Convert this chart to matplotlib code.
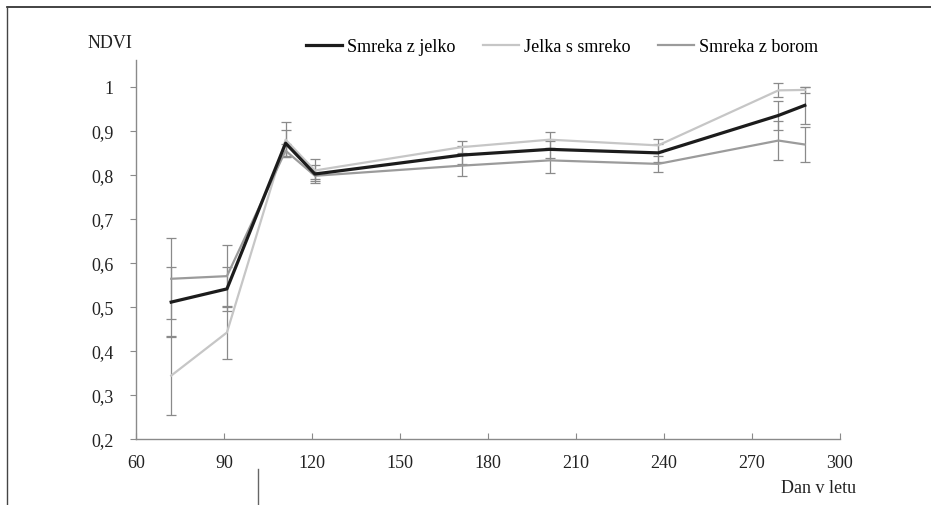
import matplotlib
matplotlib.use("Agg")
import matplotlib.pyplot as plt
from matplotlib.lines import Line2D
from matplotlib.ticker import FuncFormatter

plt.rcParams["font.family"] = ["Liberation Serif", "DejaVu Serif"]

# day of year for each measurement
days = [72, 91, 111, 121, 171, 201, 238, 279, 288]

# NDVI means
smreka_jelko = [0.511, 0.541, 0.872, 0.802, 0.845, 0.858, 0.850, 0.935, 0.958]
jelka_smreko = [0.344, 0.442, 0.880, 0.810, 0.863, 0.880, 0.867, 0.992, 0.993]
smreka_borom = [0.564, 0.570, 0.855, 0.798, 0.821, 0.833, 0.825, 0.878, 0.869]

# error bar half-widths
err_smreka_jelko = [0.08, 0.05, 0.03, 0.02, 0.02, 0.02, 0.02, 0.033, 0.042]
err_jelka_smreko = [0.09, 0.06, 0.04, 0.025, 0.014, 0.018, 0.015, 0.016, 0.007]
err_smreka_borom = [0.092, 0.071, 0.015, 0.008, 0.024, 0.028, 0.019, 0.044, 0.04]

series = [
    ("Smreka z jelko", smreka_jelko, err_smreka_jelko, "#1c1c1c", 2.3, 3),
    ("Jelka s smreko", jelka_smreko, err_jelka_smreko, "#c6c6c6", 1.6, 1),
    ("Smreka z borom", smreka_borom, err_smreka_borom, "#9b9b9b", 1.6, 2),
]

fig = plt.figure(figsize=(9.31, 5.06), dpi=100)
ax = fig.add_axes([136 / 931, 66 / 506, 704 / 931, 379 / 506])

handles = []
for label, ys, errs, color, lw, z in series:
    ax.errorbar(days, ys, yerr=errs, fmt="none", ecolor="#8a8a8a",
                elinewidth=0.9, capsize=3.5, capthick=0.9, zorder=1)
    (line,) = ax.plot(days, ys, color=color, lw=lw, zorder=z + 1, label=label)
    handles.append(line)

ax.set_xlim(60, 300)
ax.set_ylim(0.2, 1.061)
ax.set_xticks(range(60, 301, 30))
ax.set_yticks([0.2, 0.3, 0.4, 0.5, 0.6, 0.7, 0.8, 0.9, 1.0])
ax.yaxis.set_major_formatter(
    FuncFormatter(lambda v, _: "1" if abs(v - 1) < 1e-9 else f"{v:.1f}".replace(".", ","))
)

for side in ("top", "right"):
    ax.spines[side].set_visible(False)
for side in ("left", "bottom"):
    ax.spines[side].set_color("#8a8a8a")
    ax.spines[side].set_linewidth(1.0)

ax.tick_params(axis="x", direction="in", length=4, color="#8a8a8a",
               labelsize=13, pad=11, labelcolor="#222222")
ax.tick_params(axis="y", direction="out", length=4, color="#8a8a8a",
               labelsize=13, pad=12, labelcolor="#222222")

fig.text(110 / 931, 1 - 44 / 506, "NDVI", ha="center", va="center",
         fontsize=13, color="#222222")
fig.text(856 / 931, 1 - 489 / 506, "Dan v letu", ha="right", va="center",
         fontsize=13, color="#222222")

fig.legend(handles=handles, loc="center", ncol=3, frameon=False,
           bbox_to_anchor=(562 / 931, 1 - 48 / 506), fontsize=13,
           handlelength=2.0, handletextpad=0.3, columnspacing=1.5)

# frame lines of the original figure
fig.add_artist(Line2D([7 / 931, 1], [1 - 8 / 506, 1 - 8 / 506], color="#222222", lw=1.2))
fig.add_artist(Line2D([7 / 931, 7 / 931], [0, 1 - 8 / 506], color="#444444", lw=1.0))
fig.add_artist(Line2D([258 / 931, 258 / 931], [0, 36 / 506], color="#666666", lw=1.0))

fig.savefig("out.png", dpi=100, facecolor="white")
